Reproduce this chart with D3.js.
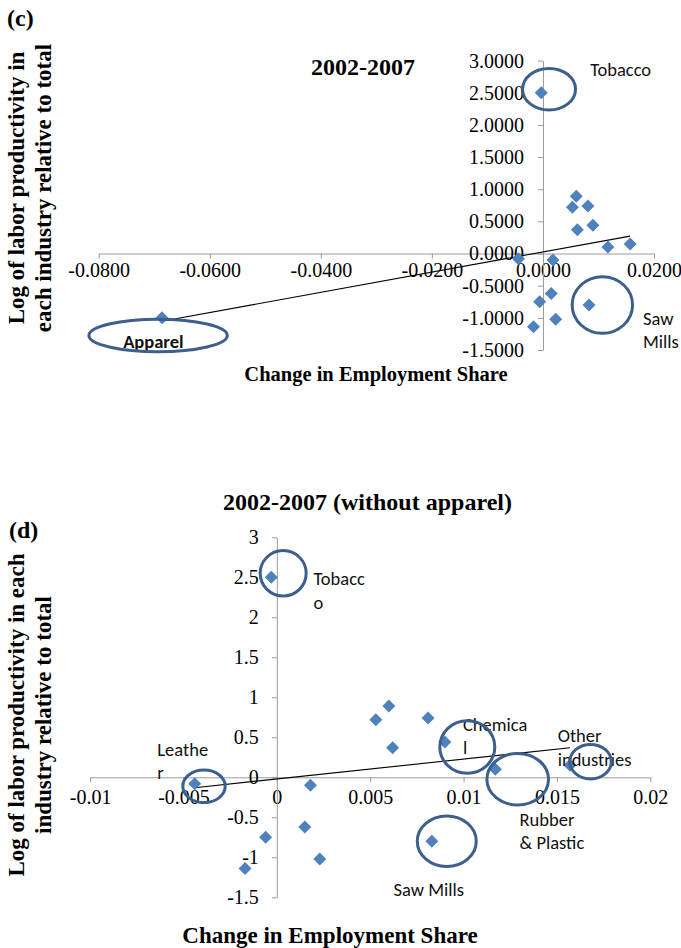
<!DOCTYPE html>
<html>
<head>
<meta charset="utf-8">
<script src="https://cdn.jsdelivr.net/npm/d3@7"></script>
<style>
  html, body { margin: 0; padding: 0; background: #fff; }
  svg { display: block; }
  .serif { font-family: "Liberation Serif", "Times New Roman", serif; }
  .sans { font-family: Carlito, Calibri, Lato, "Open Sans", sans-serif; }
</style>
</head>
<body>
<svg id="chart" width="681" height="948"></svg>
<script>
// ---- Industry data: change in employment share vs. log relative labor productivity ----
const industries = ["Tobacco", "Leather", "Ind3", "Ind4", "Ind5", "Ind6", "Ind7", "Ind8",
                    "Ind9", "Ind10", "Ind11", "Chemical", "Rubber & Plastic", "Other industries", "Saw Mills"];
const empShareChange = [-0.0003, -0.0044, 0.0018, 0.0015, -0.0006, -0.0017, 0.0023, 0.0060,
                        0.0053, 0.0081, 0.0062, 0.0090, 0.0117, 0.0157, 0.0083];
const logProductivity = [2.50, -0.08, -0.10, -0.62, -0.75, -1.14, -1.02, 0.89,
                         0.72, 0.74, 0.37, 0.44, 0.10, 0.15, -0.80];

// Apparel appears only in panel (c)
const apparelShareChange = -0.0686;
const apparelProductivity = -1.00;

// Axis ticks
const ticksC_x = [-0.08, -0.06, -0.04, -0.02, 0, 0.02];
const ticksC_y = [-1.5, -1, -0.5, 0, 0.5, 1, 1.5, 2, 2.5, 3];
const ticksD_x = [-0.01, -0.005, 0, 0.005, 0.01, 0.015, 0.02];
const ticksD_y = [-1.5, -1, -0.5, 0, 0.5, 1, 1.5, 2, 2.5, 3];
const tickLabelsD_x = ["-0.01", "-0.005", "0", "0.005", "0.01", "0.015", "0.02"];
const tickLabelsD_y = ["-1.5", "-1", "-0.5", "0", "0.5", "1", "1.5", "2", "2.5", "3"];

// Highlight ovals (centre in data units) and annotation text (anchor in data units)
const ovalsC = [
  { cx: 0.0011, cy: 2.555, rx: 26.5, ry: 20.8 },
  { cx: 0.0107, cy: -0.80, rx: 30.2, ry: 28.3 },
  { cx: -0.0693, cy: -1.275, rx: 69.2, ry: 16.2 }
];
const notesC = [
  { x: 0.0085, y: 2.865, lines: ["Tobacco"], bold: false },
  { x: 0.0180, y: -1.008, lines: ["Saw", "Mills"], bold: false },
  { x: -0.0756, y: -1.372, lines: ["Apparel"], bold: true }
];
const ovalsD = [
  { cx: 0.00034, cy: 2.55, rx: 23, ry: 22.7 },
  { cx: -0.0039, cy: -0.1125, rx: 21.2, ry: 16.3 },
  { cx: 0.0102, cy: 0.379, rx: 27.5, ry: 26.3 },
  { cx: 0.0129, cy: -0.024, rx: 30.8, ry: 25.8 },
  { cx: 0.0168, cy: 0.195, rx: 20.7, ry: 17.3 },
  { cx: 0.0091, cy: -0.80, rx: 29.5, ry: 25.3 }
];
const notesD = [
  { x: 0.00196, y: 2.479, lines: ["Tobacc", "o"] },
  { x: -0.0064, y: 0.35, lines: ["Leathe", "r"] },
  { x: 0.00997, y: 0.6625, lines: ["Chemica", "l"] },
  { x: 0.01504, y: 0.516, lines: ["Other", "industries"] },
  { x: 0.0130, y: -0.525, lines: ["Rubber", "& Plastic"] },
  { x: 0.00625, y: -1.40, lines: ["Saw Mills"] }
];

// ---- Styling ----
const MARKER = "#4F81BD";
const OVAL = "#3C5F8D";
const AXIS = "#9A9A9A";

const svg = d3.select("#chart");

// Ordinary least squares line over the plotted points
function linearFit(xs, ys) {
  const mx = d3.mean(xs), my = d3.mean(ys);
  let sxy = 0, sxx = 0;
  xs.forEach((x, i) => { sxy += (x - mx) * (ys[i] - my); sxx += (x - mx) * (x - mx); });
  const slope = sxy / sxx;
  return { slope, intercept: my - slope * mx };
}

function diamond(r) {
  return `M0,${-r}L${r},0L0,${r}L${-r},0Z`;
}

function drawPanel(opt) {
  const g = svg.append("g");
  const x = d3.scaleLinear().domain(opt.xDomain).range(opt.xRange);
  const y = d3.scaleLinear().domain(opt.yDomain).range(opt.yRange);

  // x axis through y = 0
  const xAxis = d3.axisBottom(x).tickValues(opt.xTicks).tickSize(5).tickSizeOuter(0)
    .tickFormat((d, i) => opt.xLabels[i]);
  const gx = g.append("g").attr("transform", `translate(0,${y(0)})`).call(xAxis);
  gx.select(".domain").attr("stroke", AXIS);
  gx.selectAll(".tick line").attr("stroke", AXIS);
  gx.selectAll(".tick text").attr("class", "serif").attr("fill", "#000")
    .attr("font-size", opt.tickFont).attr("y", opt.xLabelDy).attr("dy", "0.35em");

  // y axis through x = 0
  const yAxis = d3.axisLeft(y).tickValues(opt.yTicks).tickSize(5).tickSizeOuter(0)
    .tickFormat((d, i) => opt.yLabels[i]);
  const gy = g.append("g").attr("transform", `translate(${x(0)},0)`).call(yAxis);
  gy.select(".domain").attr("stroke", AXIS);
  gy.selectAll(".tick line").attr("stroke", AXIS);
  gy.selectAll(".tick text").attr("class", "serif").attr("fill", "#000")
    .attr("font-size", opt.tickFont).attr("x", -opt.yLabelDx);

  // linear trend line between the extreme x values
  const fit = linearFit(opt.xs, opt.ys);
  const [x0, x1] = d3.extent(opt.xs);
  g.append("line")
    .attr("x1", x(x0)).attr("y1", y(fit.slope * x0 + fit.intercept))
    .attr("x2", x(x1)).attr("y2", y(fit.slope * x1 + fit.intercept))
    .attr("stroke", "#000").attr("stroke-width", 1.1);

  // markers
  g.selectAll("path.pt").data(opt.xs.map((v, i) => [v, opt.ys[i]])).join("path")
    .attr("class", "pt")
    .attr("transform", d => `translate(${x(d[0])},${y(d[1])})`)
    .attr("d", diamond(6.5))
    .attr("fill", MARKER);

  // annotation text
  opt.notes.forEach(n => {
    const t = g.append("text").attr("class", "sans")
      .attr("font-size", opt.noteFont)
      .attr("font-weight", n.bold ? "bold" : "normal")
      .attr("fill", "#111");
    n.lines.forEach((ln, i) => {
      t.append("tspan").attr("x", x(n.x)).attr("y", y(n.y) + i * opt.noteLead)
        .attr("dy", "0.35em").text(ln);
    });
  });

  // highlight ovals
  g.selectAll("ellipse").data(opt.ovals).join("ellipse")
    .attr("cx", d => x(d.cx)).attr("cy", d => y(d.cy))
    .attr("rx", d => d.rx).attr("ry", d => d.ry)
    .attr("fill", "none").attr("stroke", OVAL).attr("stroke-width", 3);

  // titles
  g.append("text").attr("class", "serif").attr("font-weight", "bold")
    .attr("font-size", opt.titleFont).attr("text-anchor", "middle")
    .attr("x", opt.titlePos[0]).attr("y", opt.titlePos[1]).attr("dy", "0.35em")
    .text(opt.title);
  g.append("text").attr("class", "serif").attr("font-weight", "bold")
    .attr("font-size", opt.panelFont)
    .attr("x", opt.panelPos[0]).attr("y", opt.panelPos[1]).attr("dy", "0.35em")
    .text(opt.panel);
  g.append("text").attr("class", "serif").attr("font-weight", "bold")
    .attr("font-size", opt.xTitleFont).attr("text-anchor", "middle")
    .attr("x", opt.xTitlePos[0]).attr("y", opt.xTitlePos[1]).attr("dy", "0.35em")
    .text("Change in Employment Share");
  const yt = g.append("text").attr("class", "serif").attr("font-weight", "bold")
    .attr("font-size", opt.yTitleFont).attr("text-anchor", "middle")
    .attr("transform", `translate(${opt.yTitlePos[0]},${opt.yTitlePos[1]}) rotate(-90)`);
  opt.yTitle.forEach((ln, i) => {
    yt.append("tspan").attr("x", 0).attr("y", i * opt.yTitleLead).attr("dy", "0.35em").text(ln);
  });
}

// Panel (c): all industries including apparel
drawPanel({
  xDomain: [-0.08, 0.02], xRange: [98.7, 654],
  yDomain: [-1.5, 3], yRange: [350, 60.6],
  xTicks: ticksC_x, yTicks: ticksC_y,
  xLabels: ticksC_x.map(v => v.toFixed(4)),
  yLabels: ticksC_y.map(v => v.toFixed(4)),
  tickFont: 20, xLabelDy: 16, yLabelDx: 19,
  xs: empShareChange.concat([apparelShareChange]),
  ys: logProductivity.concat([apparelProductivity]),
  notes: notesC, ovals: ovalsC, noteFont: 18.5, noteLead: 23.3,
  title: "2002-2007", titleFont: 24, titlePos: [363, 67],
  panel: "(c)", panelFont: 24, panelPos: [7, 18],
  xTitleFont: 20.5, xTitlePos: [376, 374],
  yTitle: ["Log of labor productivity in", "each industry relative to total"],
  yTitleFont: 23, yTitleLead: 27, yTitlePos: [16, 188]
});

// Panel (d): same industries without apparel
drawPanel({
  xDomain: [-0.01, 0.02], xRange: [90.1, 650.3],
  yDomain: [-1.5, 3], yRange: [897.3, 537.3],
  xTicks: ticksD_x, yTicks: ticksD_y,
  xLabels: tickLabelsD_x, yLabels: tickLabelsD_y,
  tickFont: 20, xLabelDy: 20, yLabelDx: 18,
  xs: empShareChange, ys: logProductivity,
  notes: notesD, ovals: ovalsD, noteFont: 18.5, noteLead: 23.3,
  title: "2002-2007 (without apparel)", titleFont: 24, titlePos: [367.5, 502],
  panel: "(d)", panelFont: 24, panelPos: [9, 530],
  xTitleFont: 23, xTitlePos: [330, 935],
  yTitle: ["Log of labor productivity in each", "industry relative to total"],
  yTitleFont: 23, yTitleLead: 27, yTitlePos: [16, 715]
});
</script>
</body>
</html>
